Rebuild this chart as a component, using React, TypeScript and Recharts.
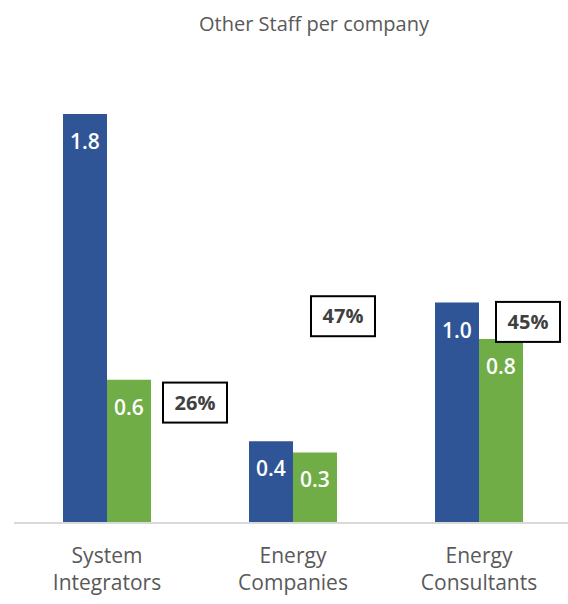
import React from 'react';
import { BarChart, Bar, XAxis, YAxis, LabelList, ReferenceDot } from 'recharts';

// data
const categories = ['System Integrators', 'Energy Companies', 'Energy Consultants'];
const blueValues = [1.8, 0.36, 0.97];
const greenValues = [0.63, 0.31, 0.81];
const shareLabels = ['26%', '47%', '45%'];
const shareLevels = [0.53, 0.91, 0.885];

// pixel shift of each share box from its category centre
const shareShift = [88, 50, 49];

const BLUE = '#2F5597';
const GREEN = '#70AD47';
const FONT = '"Open Sans", "Liberation Sans", sans-serif';

const chartData = categories.map((name, i) => ({
    name,
    blue: blueValues[i],
    green: greenValues[i]
}));

const CategoryTick = (props: any) => {
    const { x, y, payload } = props;
    const words = String(payload.value).split(' ');
    return (
        <g>
            {words.map((w, i) => (
                <text
                    key={i}
                    x={x}
                    y={y + 32 + i * 27}
                    textAnchor="middle"
                    fill="#595959"
                    fontSize={21}
                    fontFamily={FONT}
                >
                    {w}
                </text>
            ))}
        </g>
    );
};

const makeShareBox = (label: string, shift: number) => (props: any) => {
    const { cx, cy } = props;
    if (cx == null || cy == null) return <g />;
    const x = cx + shift;
    return (
        <g>
            <rect x={x - 32} y={cy - 20} width={64} height={40} fill="#fff" stroke="#000" strokeWidth={2} />
            <text
                x={x}
                y={cy + 7}
                textAnchor="middle"
                fill="#404040"
                fontSize={20}
                fontWeight={700}
                fontFamily={FONT}
            >
                {label}
            </text>
        </g>
    );
};

export default function App() {
    return (
        <div style={{ position: 'absolute', left: 0, top: 0, width: 568, height: 604, overflow: 'hidden', background: '#fff' }}>
            <BarChart
                width={580}
                height={604}
                data={chartData}
                margin={{ top: 114, right: 8, bottom: 0, left: 14 }}
                barGap={0}
                barSize={44}
            >
                <text x={314} y={31} textAnchor="middle" fill="#595959" fontSize={20} fontFamily={FONT}>
                    Other Staff per company
                </text>
                <XAxis
                    dataKey="name"
                    height={81}
                    interval={0}
                    tickLine={false}
                    axisLine={{ stroke: '#D9D9D9', strokeWidth: 2 }}
                    tick={<CategoryTick />}
                />
                <YAxis hide domain={[0, 1.8]} allowDataOverflow />
                <Bar dataKey="blue" fill={BLUE} isAnimationActive={false}>
                    <LabelList
                        dataKey="blue"
                        position="insideTop"
                        offset={20}
                        fill="#fff"
                        fontSize={21}
                        fontWeight={600}
                        fontFamily={FONT}
                        formatter={(v: any) => Number(v).toFixed(1)}
                    />
                </Bar>
                <Bar dataKey="green" fill={GREEN} isAnimationActive={false}>
                    <LabelList
                        dataKey="green"
                        position="insideTop"
                        offset={20}
                        fill="#fff"
                        fontSize={21}
                        fontWeight={600}
                        fontFamily={FONT}
                        formatter={(v: any) => Number(v).toFixed(1)}
                    />
                </Bar>
                {categories.map((c, i) => (
                    <ReferenceDot
                        key={c}
                        x={c}
                        y={shareLevels[i]}
                        r={0}
                        ifOverflow="visible"
                        shape={makeShareBox(shareLabels[i], shareShift[i])}
                    />
                ))}
            </BarChart>
        </div>
    );
}
